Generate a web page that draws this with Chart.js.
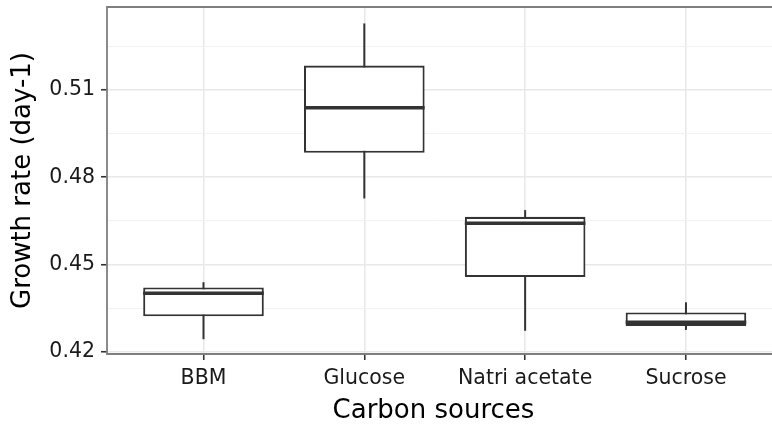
<!DOCTYPE html>
<html><head><meta charset="utf-8">
<script src="https://cdn.jsdelivr.net/npm/chart.js@4/dist/chart.umd.min.js"></script>
<style>html,body{margin:0;padding:0;background:#fff;overflow:hidden}</style>
</head><body>
<canvas id="c" width="772" height="425"></canvas>
<script>
const categories = ['BBM', 'Glucose', 'Natri acetate', 'Sucrose'];
const lowerWhisker = [0.4243, 0.4727, 0.4272, 0.4275];
const q1 = [0.4322, 0.4884, 0.4457, 0.4288];
const median = [0.4401, 0.5039, 0.4642, 0.4301];
const q3 = [0.4421, 0.5184, 0.4664, 0.4335];
const upperWhisker = [0.4439, 0.5329, 0.4687, 0.4370];
const yMajorTicks = [0.42, 0.45, 0.48, 0.51];
const yMinorTicks = [0.435, 0.465, 0.495, 0.525];
const xTitle = 'Carbon sources';
const yTitle = 'Growth rate (day-1)';

const FONT = "'DejaVu Sans', sans-serif";
const isMajor = v => yMajorTicks.some(m => Math.abs(m - v) < 1e-9);

const framePlugin = {
  id: 'frame',
  afterDraw(chart) {
    const {ctx, chartArea: a} = chart;
    ctx.save();
    ctx.strokeStyle = '#7f7f7f';
    ctx.lineWidth = 1.8;
    ctx.beginPath();
    ctx.moveTo(a.right + 2, a.bottom);
    ctx.lineTo(a.left, a.bottom);
    ctx.lineTo(a.left, a.top);
    ctx.lineTo(a.right + 2, a.top);
    ctx.stroke();
    ctx.fillStyle = '#000';
    ctx.font = '26px ' + FONT;
    ctx.textAlign = 'center';
    ctx.textBaseline = 'alphabetic';
    ctx.fillText(xTitle, 433.5, 418);
    ctx.restore();
  }
};

new Chart(document.getElementById('c'), {
  type: 'bar',
  data: {
    datasets: [
      {
        type: 'line',
        label: 'median',
        data: categories.map((c, i) => ({x: i + 1, y: median[i]})),
        showLine: false,
        pointStyle: 'line',
        pointRadius: 60.3,
        pointHoverRadius: 60.3,
        pointBorderWidth: 3.6,
        pointBorderColor: '#333333',
        clip: false,
        order: 1
      },
      {
        label: 'box',
        data: categories.map((c, i) => ({x: i + 1, y: [q1[i], q3[i]]})),
        backgroundColor: '#ffffff',
        borderColor: '#333333',
        borderWidth: 2.1,
        borderSkipped: false,
        inflateAmount: 0,
        grouped: false,
        barPercentage: 0.75,
        categoryPercentage: 1,
        order: 2
      },
      {
        label: 'whisker',
        data: categories.map((c, i) => ({x: i + 1, y: [lowerWhisker[i], upperWhisker[i]]})),
        backgroundColor: '#333333',
        borderWidth: 0,
        grouped: false,
        maxBarThickness: 2,
        order: 3
      }
    ]
  },
  options: {
    responsive: false,
    animation: false,
    events: [],
    layout: {autoPadding: false, padding: {top: 7, right: 0, left: 0, bottom: 0}},
    plugins: {legend: {display: false}, tooltip: {enabled: false}},
    scales: {
      x: {
        type: 'linear',
        offset: false,
        min: 0.4,
        max: 4.535,
        afterBuildTicks(scale) { scale.ticks = categories.map((c, i) => ({value: i + 1})); },
        afterFit(scale) { scale.height = 71; scale.paddingLeft = 0; scale.paddingRight = 0; },
        ticks: {
          autoSkip: false, maxRotation: 0, padding: 6,
          color: '#1a1a1a', font: {family: FONT, size: 20.5},
          callback: v => categories[Math.round(v) - 1]
        },
        grid: {offset: false, color: '#e8e8e8', lineWidth: 1.5, tickLength: 6, tickColor: '#333333', tickWidth: 1.6},
        border: {display: false}
      },
      y: {
        type: 'linear',
        min: 0.41921,
        max: 0.53855,
        afterBuildTicks(scale) {
          scale.ticks = yMajorTicks.concat(yMinorTicks).sort((a, b) => a - b).map(v => ({value: v}));
        },
        afterFit(scale) { scale.width = 107; scale.paddingTop = 0; scale.paddingBottom = 0; },
        ticks: {
          padding: 6, color: '#1a1a1a', font: {family: FONT, size: 20.5},
          callback: v => isMajor(v) ? v.toFixed(2) : ''
        },
        grid: {
          color: c => isMajor(c.tick.value) ? '#e8e8e8' : '#f2f2f2',
          lineWidth: c => isMajor(c.tick.value) ? 1.5 : 1,
          tickLength: 6,
          tickColor: c => isMajor(c.tick.value) ? '#333333' : 'rgba(0,0,0,0)',
          tickWidth: 1.6
        },
        border: {display: false},
        title: {display: true, text: yTitle, color: '#000', font: {family: FONT, size: 26}, padding: {top: 8, bottom: 0}}
      }
    }
  },
  plugins: [framePlugin]
});
</script>
</body></html>
